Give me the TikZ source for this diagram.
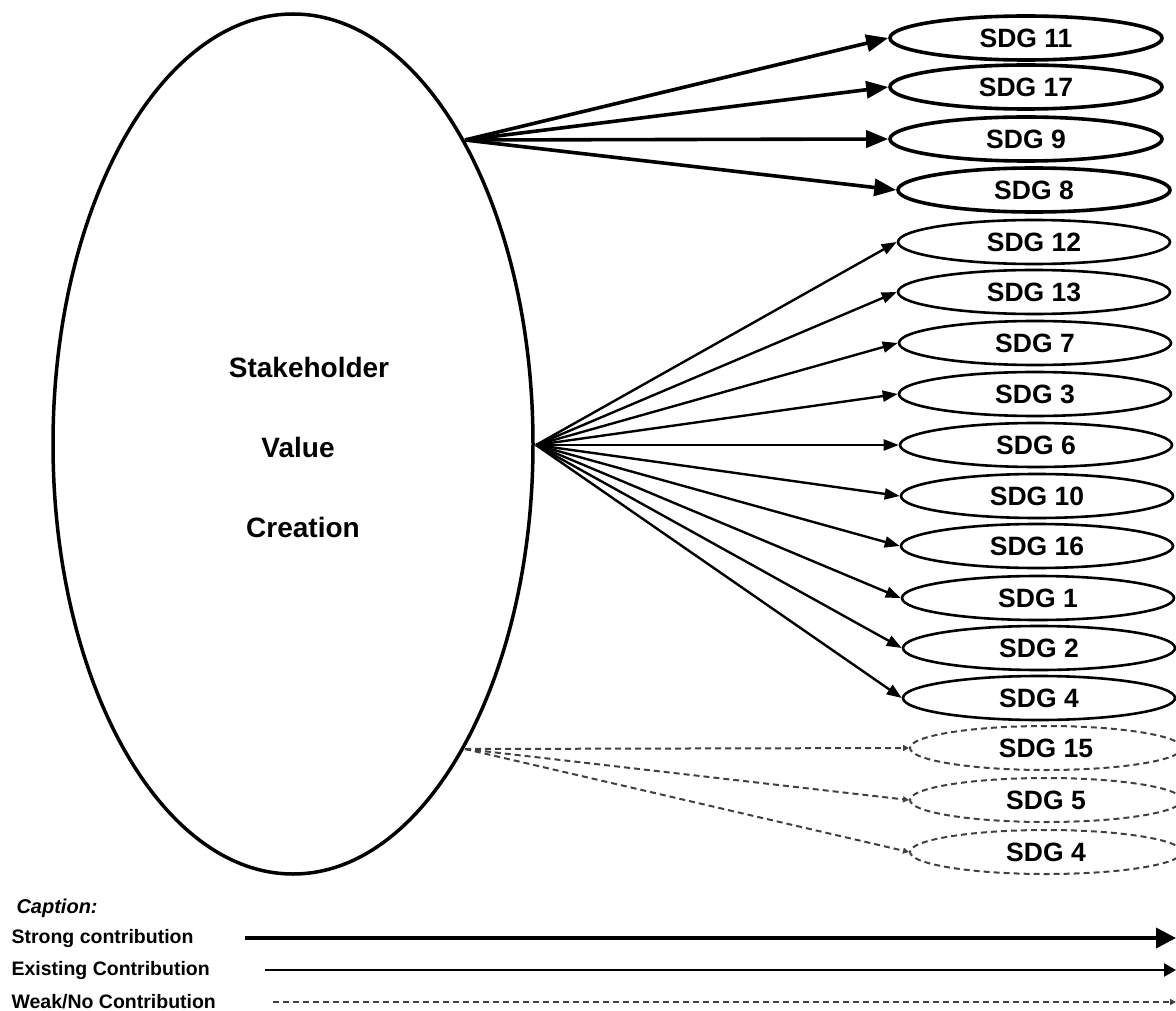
\documentclass[tikz,border=0pt]{standalone}
\usepackage{fontspec}
\setmainfont{Liberation Sans}
\usetikzlibrary{arrows.meta,shapes.geometric}
\begin{document}
\begin{tikzpicture}[x=1pt,y=-1pt,
  sdgbase/.style={ellipse, minimum width=272pt, minimum height=44pt, inner sep=0pt,
    font=\fontsize{26.5}{28}\selectfont\bfseries},
  sdgstrong/.style={sdgbase, draw, line width=3.6pt},
  sdgmid/.style={sdgbase, draw, line width=2.6pt},
  sdgweak/.style={sdgbase, draw=black!75, line width=2pt, dash pattern=on 6pt off 4pt},
  strongarrow/.style={line width=3.6pt, -{Triangle[length=22pt,width=17pt]}},
  midarrow/.style={line width=2.4pt, -{Triangle[length=15pt,width=11pt]}},
  weakarrow/.style={draw=black!75, line width=2pt, dash pattern=on 6pt off 4pt, -{Triangle[length=6pt,width=6pt]}},
  captext/.style={anchor=west, font=\fontsize{19.5}{22}\selectfont\bfseries},
  bigtext/.style={font=\fontsize{28}{30}\selectfont\bfseries}
]
\useasboundingbox (0,0) rectangle (1176,1011);

% main ellipse
\node[ellipse, draw, line width=3.5pt, minimum width=480pt, minimum height=860pt, inner sep=0pt] (svc) at (293,444) {};
\node[bigtext] (t1) at (309,367) {Stakeholder};
\node[bigtext] (t2) at (298,447) {Value};
\node[bigtext] (t3) at (303,527) {Creation};

\coordinate (o1) at (465,140);
\coordinate (o2) at (536,445);
\coordinate (o3) at (465,749);

% strong
\node[sdgstrong] (s11) at (1026,38) {SDG 11};
\node[sdgstrong] (s17) at (1026,87) {SDG 17};
\node[sdgstrong] (s9)  at (1026,139) {SDG 9};
\node[sdgstrong] (s8)  at (1034,190) {SDG 8};
% existing
\node[sdgmid] (s12) at (1034,242) {SDG 12};
\node[sdgmid] (s13) at (1034,292) {SDG 13};
\node[sdgmid] (s7)  at (1035,343) {SDG 7};
\node[sdgmid] (s3)  at (1035,394) {SDG 3};
\node[sdgmid] (s6)  at (1036,445) {SDG 6};
\node[sdgmid] (s10) at (1037,496) {SDG 10};
\node[sdgmid] (s16) at (1037,546) {SDG 16};
\node[sdgmid] (s1)  at (1038,598) {SDG 1};
\node[sdgmid] (s2)  at (1039,648) {SDG 2};
\node[sdgmid] (s4)  at (1039,698) {SDG 4};
% weak
\node[sdgweak] (w15) at (1046,748) {SDG 15};
\node[sdgweak] (w5)  at (1046,800) {SDG 5};
\node[sdgweak] (w4)  at (1046,852) {SDG 4};

\foreach \n in {s11,s17,s9,s8} \draw[strongarrow] (o1) -- (\n.west);
\foreach \n in {s12,s13,s7,s3,s6,s10,s16,s1,s2,s4} \draw[midarrow] (o2) -- (\n.west);
\foreach \n in {w15,w5,w4} \draw[weakarrow] (o3) -- (\n.west);

% caption
\node[anchor=west, font=\fontsize{20}{22}\selectfont\bfseries\itshape] (cap) at (13,908) {Caption:};
\node[captext] (c1) at (8,938) {Strong contribution};
\node[captext] (c2) at (8,970) {Existing Contribution};
\node[captext] (c3) at (8,1002) {Weak/No Contribution};
\coordinate (l1a) at (245,938); \coordinate (l1b) at (1176,938);
\coordinate (l2a) at (265,970); \coordinate (l2b) at (1176,970);
\coordinate (l3a) at (273,1002); \coordinate (l3b) at (1176,1002);
\draw[line width=3.6pt, -{Triangle[length=20pt,width=20pt]}] (l1a) -- (l1b);
\draw[line width=2.4pt, -{Triangle[length=12pt,width=13pt]}] (l2a) -- (l2b);
\draw[weakarrow] (l3a) -- (l3b);
\end{tikzpicture}
\end{document}
